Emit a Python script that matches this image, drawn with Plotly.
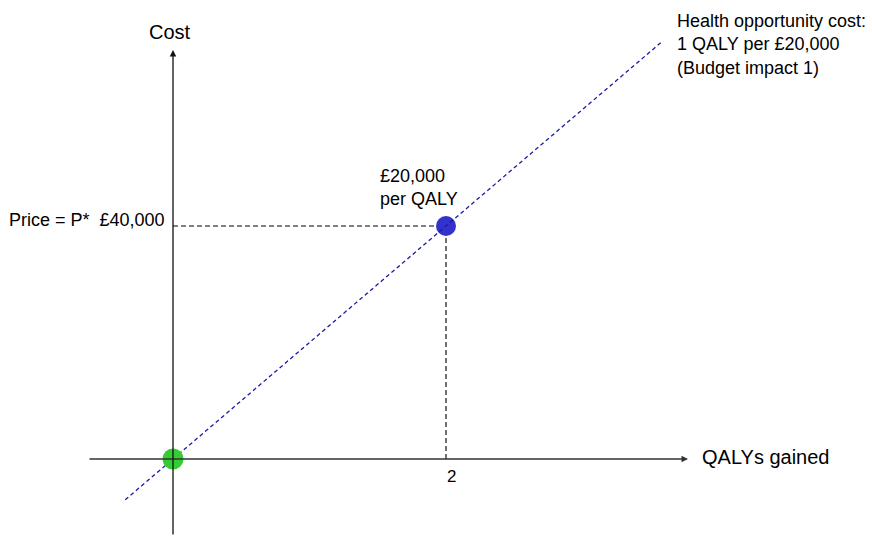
import plotly.graph_objects as go

# data
qalys_point = [2]
cost_point = [40000]
origin_x = [0]
origin_y = [0]
threshold = 20000  # £ per QALY
line_x = [-0.35, 3.58]
line_y = [x * threshold for x in line_x]

FONT = "Liberation Sans, Arial, sans-serif"
BLACK = "black"

fig = go.Figure()

# dashed guides to the point
fig.add_trace(go.Scatter(x=[0, qalys_point[0]], y=[cost_point[0], cost_point[0]], mode="lines",
                         line=dict(color=BLACK, width=1.1, dash="5px,3px"), hoverinfo="skip"))
fig.add_trace(go.Scatter(x=[qalys_point[0], qalys_point[0]], y=[0, cost_point[0]], mode="lines",
                         line=dict(color=BLACK, width=1.1, dash="5px,3px"), hoverinfo="skip"))

# axes with arrows
fig.add_annotation(x=3.773, y=0, ax=-0.623, ay=0, xref="x", yref="y", axref="x", ayref="y",
                   text="", showarrow=True, arrowhead=2, arrowsize=1, arrowwidth=1.3,
                   arrowcolor="#333333")
fig.add_annotation(x=0, y=70213, ax=0, ay=-13218, xref="x", yref="y", axref="x", ayref="y",
                   text="", showarrow=True, arrowhead=2, arrowsize=1, arrowwidth=1.3,
                   arrowcolor="#111111")

# product point (line is drawn over it)
fig.add_trace(go.Scatter(x=qalys_point, y=cost_point, mode="markers",
                         marker=dict(color="#3333cc", size=20), hoverinfo="skip"))

# health opportunity cost line
fig.add_trace(go.Scatter(x=line_x, y=line_y, mode="lines",
                         line=dict(color="#1a1aa8", width=1.3, dash="4px,3px"),
                         hoverinfo="skip"))

fig.add_trace(go.Scatter(x=origin_x, y=origin_y, mode="markers",
                         marker=dict(color="#33cc33", size=21), hoverinfo="skip"))

# labels
fig.add_annotation(x=-0.022, y=73225, text="Cost", showarrow=False,
                   font=dict(size=20, family=FONT, color=BLACK))
fig.add_annotation(x=3.86, y=300, text="QALYs gained", showarrow=False, xanchor="left",
                   font=dict(size=20, family=FONT, color=BLACK))
fig.add_annotation(x=2.04, y=-2918, text="2", showarrow=False,
                   font=dict(size=17, family=FONT, color=BLACK))
fig.add_annotation(x=-0.044, y=41030, text="Price = P*  £40,000", showarrow=False,
                   xanchor="right", font=dict(size=18, family=FONT, color=BLACK))
fig.add_annotation(x=1.502, y=46694, text="£20,000<br>per QALY", showarrow=False,
                   xanchor="left", align="left", font=dict(size=18, family=FONT, color=BLACK))
fig.add_annotation(x=3.678, y=71243,
                   text="Health opportunity cost:<br>1 QALY per £20,000<br>(Budget impact 1)",
                   showarrow=False, xanchor="left", align="left",
                   font=dict(size=18, family=FONT, color=BLACK))

# ranges chosen so that 1 QALY = 136.5 px and £20,000 = 116.5 px
fig.update_xaxes(range=[-1.2088, 5.1868], visible=False)
fig.update_yaxes(range=[-14935, 77423], visible=False)
fig.update_layout(width=873, height=538, margin=dict(l=0, r=0, t=0, b=0),
                  plot_bgcolor="white", paper_bgcolor="white", showlegend=False)

fig.write_html("out.html")
